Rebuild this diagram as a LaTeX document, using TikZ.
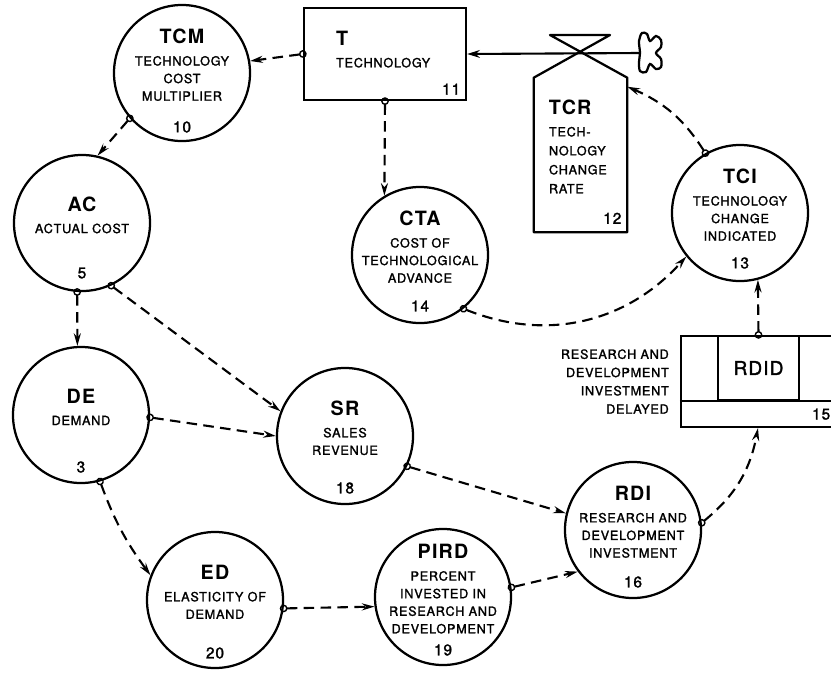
\documentclass[tikz,border=0pt]{standalone}
\usepackage{fontspec}
\setmainfont{TeX Gyre Heros}[LetterSpace=6, UprightFeatures={FakeBold=1.6}]
\usetikzlibrary{arrows.meta,positioning,calc}

\newcommand{\vname}[1]{{\fontsize{14}{14}\selectfont\bfseries #1}}
\tikzset{
  var/.style={circle, draw, line width=1.6pt, minimum size=3.4cm, inner sep=0pt},
  vartext/.style={align=center, font=\fontsize{9}{12.5}\selectfont, inner sep=0pt},
  num/.style={font=\fontsize{11}{11}\selectfont, inner sep=0pt},
  stockbox/.style={draw, line width=1.6pt, inner sep=0pt},
  infolink/.style={line width=1.5pt, dash pattern=on 7.5pt off 4.5pt,
    {Circle[open, length=5.5pt, line width=1pt]}-{Stealth[length=9pt, width=5pt]},
    shorten <=-2.75pt},
  flow/.style={line width=1.5pt, -{Stealth[length=9pt, width=5.5pt]}}
}

\begin{document}
\begin{tikzpicture}[x=0.025cm, y=-0.025cm]
    \useasboundingbox (0,0) rectangle (831,673);
    \clip (0,0) rectangle (831,673);
    % levels and rate
    \node[stockbox, minimum width=4.05cm, minimum height=2.3cm] (tech) at (385,54) {};
    \node[vartext, align=left, anchor=north west] at ($(tech.north west)+(33,24)$) {\vname{T}\\[3pt]TECHNOLOGY};
    \node[num] at ($(tech.south east)+(-16,-12)$) {11};
    \node[minimum width=2.325cm, minimum height=3.85cm, inner sep=0pt] (tcr) at (580.5,155) {};
    \draw[line width=1.6pt, line join=round] (610,35) -- (tcr.north west) -- (tcr.south west) -- (tcr.south east) -- (tcr.north east) -- (550,35) -- cycle;
    \node[vartext, align=left, anchor=north west, font=\fontsize{9}{13.5}\selectfont] at ($(tcr.north west)+(15,22)$) {\vname{TCR}\\[2pt]TECH-\\NOLOGY\\CHANGE\\RATE};
    \node[num] at ($(tcr.south east)+(-15,-14)$) {12};
    % source cloud
    \node[minimum width=0.55cm, minimum height=1cm, inner sep=0pt] (source) at (650.5,53) {};
    \draw[line width=1.6pt] plot[smooth cycle, tension=0.55] coordinates {(639,41) (642,33) (647,34) (650,41) (656,36) (661,40) (661,47) (656,53) (661,59) (661,67) (656,69) (650,64) (646,72) (640,71) (639,62) (640,53)};
    % delay box
    \node[stockbox, minimum width=3.85cm, minimum height=2.275cm] (rdidbox) at (758,381.5) {};
    \node[stockbox, minimum width=2.025cm, minimum height=1.6cm, font=\fontsize{13.5}{13.5}\selectfont] (rdid) at (758.5,368) {RDID};
    \draw[line width=1.6pt] (rdidbox.west |- rdid.south) -- (rdidbox.east |- rdid.south);
    \node[num] at ($(rdidbox.south east)+(-15,-14)$) {15};
    \node[vartext, align=right, anchor=east, font=\fontsize{9}{13}\selectfont, left=0.27cm of rdidbox] {RESEARCH AND\\DEVELOPMENT\\INVESTMENT\\DELAYED};
    % auxiliaries
    \node[var] (tcm) at (182,73) {};
    \node[vartext] at ($(tcm)+(0,-8)$) {\vname{TCM}\\[3pt]TECHNOLOGY\\COST\\MULTIPLIER};
    \node[num] at ($(tcm)+(0,54)$) {10};
    \node[var] (ac) at (82,223) {};
    \node[vartext] at ($(ac)+(0,-8)$) {\vname{AC}\\[3pt]ACTUAL COST};
    \node[num] at ($(ac)+(0,50)$) {5};
    \node[var] (de) at (81,415) {};
    \node[vartext] at ($(de)+(0,-8)$) {\vname{DE}\\[3pt]DEMAND};
    \node[num] at ($(de)+(0,52)$) {3};
    \node[var] (ed) at (215,600) {};
    \node[vartext] at ($(ed)+(0,-8)$) {\vname{ED}\\[3pt]ELASTICITY OF\\DEMAND};
    \node[num] at ($(ed)+(0,53)$) {20};
    \node[var] (pird) at (443,597) {};
    \node[vartext] at ($(pird)+(0,-8)$) {\vname{PIRD}\\[3pt]PERCENT\\INVESTED IN\\RESEARCH AND\\DEVELOPMENT};
    \node[num] at ($(pird)+(0,53)$) {19};
    \node[var] (sr) at (345,436) {};
    \node[vartext] at ($(sr)+(0,-8)$) {\vname{SR}\\[3pt]SALES\\REVENUE};
    \node[num] at ($(sr)+(0,52)$) {18};
    \node[var] (rdi) at (633,530) {};
    \node[vartext] at ($(rdi)+(0,-8)$) {\vname{RDI}\\[3pt]RESEARCH AND\\DEVELOPMENT\\INVESTMENT};
    \node[num] at ($(rdi)+(0,52)$) {16};
    \node[var] (cta) at (420,255) {};
    \node[vartext] at ($(cta)+(0,-8)$) {\vname{CTA}\\[3pt]COST OF\\TECHNOLOGICAL\\ADVANCE};
    \node[num] at ($(cta)+(0,51)$) {14};
    \node[var] (tci) at (740,213) {};
    \node[vartext] at ($(tci)+(0,-8)$) {\vname{TCI}\\[3pt]TECHNOLOGY\\CHANGE\\INDICATED};
    \node[num] at ($(tci)+(0,50)$) {13};
    % material flow
    \draw[flow] (source.west) -- (tech.east);
    % information links
    \draw[infolink] (tech.west) -- (tcm.10);
    \draw[infolink] (tech.south) -- (cta.121);
    \draw[infolink] (tcm.221) -- (ac.77);
    \draw[infolink] (ac.266) -- (de.93);
    \draw[infolink] (ac.295) -- (sr.159);
    \draw[infolink] (de.358) -- (sr.180);
    \draw[infolink] (de.286) to[bend right=8] (ed.159);
    \draw[infolink] (ed.353) -- (pird.188);
    \draw[infolink] (pird.8) -- (rdi.217);
    \draw[infolink] (sr.334) -- (rdi.166);
    \draw[infolink] (rdi.6) to[bend right=20] (rdidbox.south);
    \draw[infolink] (rdid.north) -- (tci.285);
    \draw[infolink] (cta.309) to[bend right=35] (tci.219);
    \draw[infolink] (tci.120) to[bend right=17] ($(tcr.north east)+(0,9)$);
\end{tikzpicture}
\end{document}
